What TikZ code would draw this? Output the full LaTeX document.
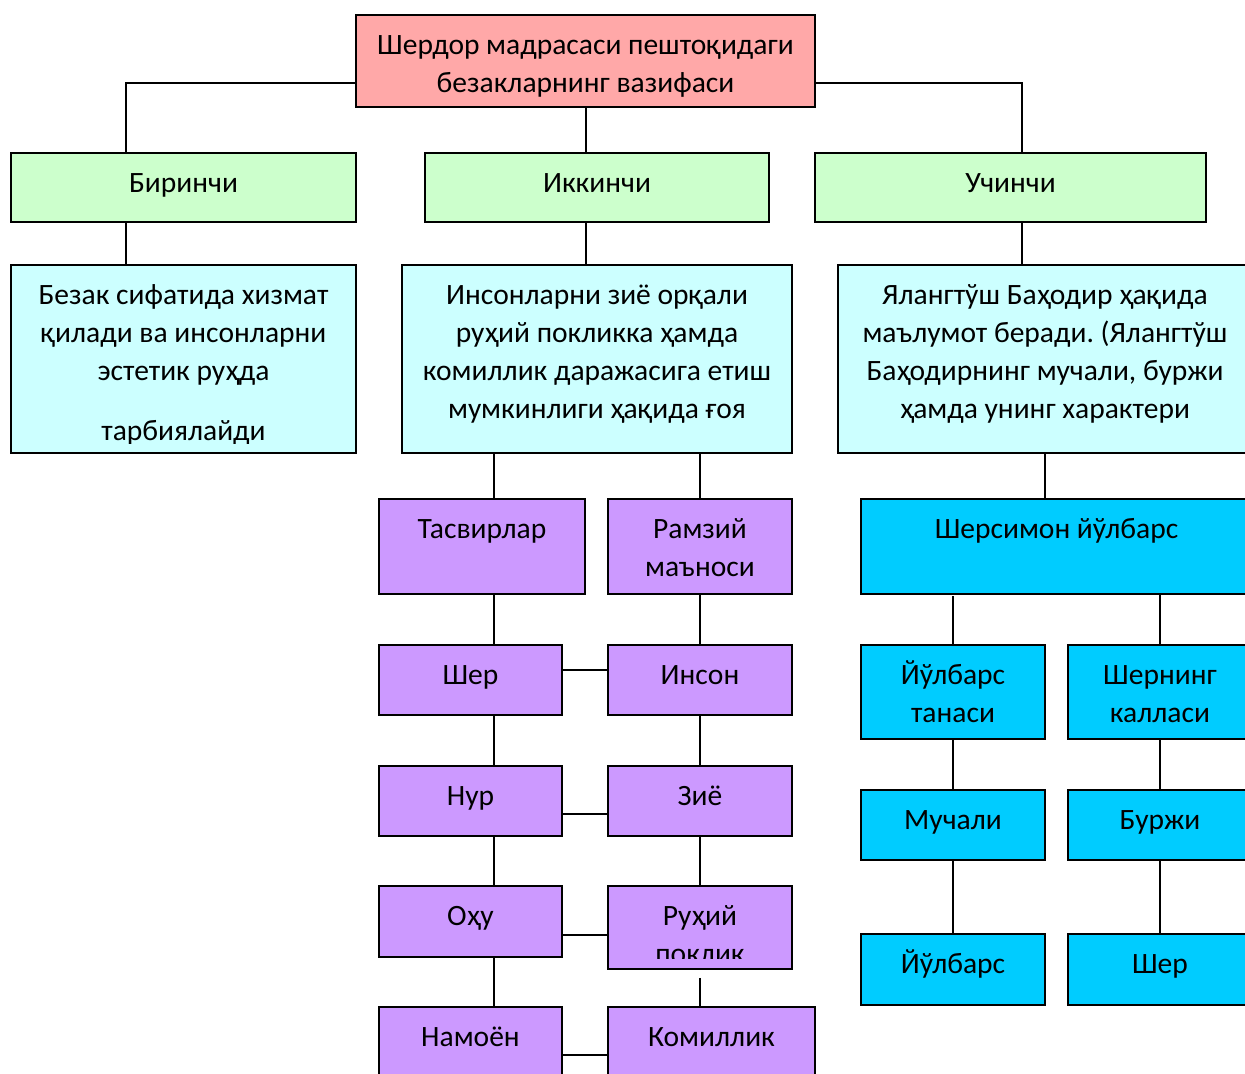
\documentclass[tikz,border=0pt]{standalone}
\usepackage{fontspec}
\setmainfont{Carlito}
\frenchspacing
\usetikzlibrary{calc, fit, positioning}
\definecolor{pinkc}{RGB}{255,168,168}
\definecolor{greenc}{RGB}{204,255,204}
\definecolor{cyanc}{RGB}{204,255,255}
\definecolor{purpc}{RGB}{204,153,255}
\definecolor{bluec}{RGB}{0,204,255}
\tikzset{
    box/.style={draw, line width=1.1pt, inner sep=0pt},
    titlebox/.style={box, fill=pinkc},
    part/.style={box, fill=greenc},
    info/.style={box, fill=cyanc},
    sym/.style={box, fill=purpc},
    tiger/.style={box, fill=bluec},
    txt/.style={align=center, anchor=north, inner sep=0pt, font=\fontsize{16.8}{21.6}\selectfont},
    link/.style={line width=1.1pt} }
\newcommand{\boxtext}[3]{\node[txt] (#1) at ($(#2.north)+(0,12.3)$) {\rule{0pt}{16pt}#3};}

\begin{document}
\begin{tikzpicture}[x=0.02cm, y=-0.02cm]
			\useasboundingbox (0,0) rectangle (1245,1073);
			\clip (0,0) rectangle (1245,1073);
			% ---- boxes
			\node[titlebox, fit={(356,15) (815,107)}] (title) {};
			\node[part, fit={(11,153) (356,222)}] (first) {};
			\node[part, fit={(425,153) (769,222)}] (second) {};
			\node[part, fit={(815,153) (1206,222)}] (third) {};
			\node[info, fit={(11,265) (356,453)}] (info1) {};
			\node[info, fit={(402,265) (792,453)}] (info2) {};
			\node[info, fit={(838,265) (1252,453)}] (info3) {};
			\node[sym, fit={(379,499) (585,594)}] (pics) {};
			\node[sym, fit={(608,499) (792,594)}] (meaning) {};
			\node[tiger, fit={(861,499) (1252,594)}] (shersimon) {};
			\node[sym, fit={(379,645) (562,715)}] (sher) {};
			\node[sym, fit={(608,645) (792,715)}] (inson) {};
			\node[sym, fit={(379,766) (562,836)}] (nur) {};
			\node[sym, fit={(608,766) (792,836)}] (ziyo) {};
			\node[sym, fit={(379,886) (562,957)}] (okhu) {};
			\node[sym, fit={(608,886) (792,969)}] (pok) {};
			\node[sym, fit={(379,1007) (562,1090)}] (namoyon) {};
			\node[sym, fit={(608,1007) (815,1090)}] (kamol) {};
			\node[tiger, fit={(861,645) (1045,739)}] (tana) {};
			\node[tiger, fit={(1068,645) (1252,739)}] (kalla) {};
			\node[tiger, fit={(861,790) (1045,860)}] (muchal) {};
			\node[tiger, fit={(1068,790) (1252,860)}] (burj) {};
			\node[tiger, fit={(861,934) (1045,1005)}] (yulbars) {};
			\node[tiger, fit={(1068,934) (1252,1005)}] (sherb) {};
			% ---- texts
			\boxtext{title-t}{title}{Шердор мадрасаси пештоқидаги\\безакларнинг вазифаси}
			\boxtext{first-t}{first}{Биринчи}
			\boxtext{second-t}{second}{Иккинчи}
			\boxtext{third-t}{third}{Учинчи}
			\begin{scope}
				\clip (info1.north west) rectangle ($(info1.south east)+(0,-10)$);
				\boxtext{info1-t}{info1}{Безак сифатида хизмат\\қилади ва инсонларни\\эстетик руҳда\\[12.5pt]тарбиялайди}
			\end{scope}
			\boxtext{info2-t}{info2}{Инсонларни зиё орқали\\руҳий покликка ҳамда\\комиллик даражасига етиш\\мумкинлиги ҳақида ғоя}
			\boxtext{info3-t}{info3}{Ялангтўш Баҳодир ҳақида\\маълумот беради. (Ялангтўш\\Баҳодирнинг мучали, буржи\\ҳамда унинг характери}
			\boxtext{pics-t}{pics}{Тасвирлар}
			\boxtext{meaning-t}{meaning}{Рамзий\\маъноси}
			\boxtext{shersimon-t}{shersimon}{Шерсимон йўлбарс}
			\boxtext{sher-t}{sher}{Шер}
			\boxtext{inson-t}{inson}{Инсон}
			\boxtext{nur-t}{nur}{Нур}
			\boxtext{ziyo-t}{ziyo}{Зиё}
			\boxtext{okhu-t}{okhu}{Оҳу}
			\begin{scope}
				\clip (pok.north west) rectangle ($(pok.south east)+(0,-11)$);
				\boxtext{pok-t}{pok}{Руҳий\\поклик}
			\end{scope}
			\boxtext{namoyon-t}{namoyon}{Намоён}
			\boxtext{kamol-t}{kamol}{Комиллик}
			\boxtext{tana-t}{tana}{Йўлбарс\\танаси}
			\boxtext{kalla-t}{kalla}{Шернинг\\калласи}
			\boxtext{muchal-t}{muchal}{Мучали}
			\boxtext{burj-t}{burj}{Буржи}
			\boxtext{yulbars-t}{yulbars}{Йўлбарс}
			\boxtext{sherb-t}{sherb}{Шер}
			% ---- connectors
			\draw[link] ($(title.west)+(0,22)$) -| ($(first.north)+(-57.5,0)$);
			\draw[link] ($(title.east)+(0,22)$) -| ($(third.north)+(11.5,0)$);
			\draw[link] ($(title.south)+(0.5,0)$) coordinate (c0) -- (c0 |- second.north);
			\draw[link] ($(first.south)+(-57.5,0)$) coordinate (c1) -- (c1 |- info1.north);
			\draw[link] ($(second.south)+(-11,0)$) coordinate (c2) -- (c2 |- info2.north);
			\draw[link] ($(third.south)+(11.5,0)$) coordinate (c3) -- (c3 |- info3.north);
			\draw[link] ($(pics.north)+(12,0)$) coordinate (c4) -- (c4 |- info2.south);
			\draw[link] (meaning.north) -- (meaning.north |- info2.south);
			\draw[link] ($(shersimon.north)+(-11.5,0)$) coordinate (c5) -- (c5 |- info3.south);
			\draw[link] ($(pics.south)+(12,0)$) coordinate (c6) -- (c6 |- sher.north);
			\draw[link] (meaning.south) -- (meaning.south |- inson.north);
			\draw[link] ($(sher.east)+(0,-10)$) coordinate (c7) -- (c7 -| inson.west);
			\draw[link] ($(sher.south)+(23.5,0)$) coordinate (c8) -- (c8 |- nur.north);
			\draw[link] (inson.south) -- (inson.south |- ziyo.north);
			\draw[link] ($(nur.east)+(0,13)$) coordinate (c9) -- (c9 -| ziyo.west);
			\draw[link] ($(nur.south)+(23.5,0)$) coordinate (c10) -- (c10 |- okhu.north);
			\draw[link] (ziyo.south) -- (ziyo.south |- pok.north);
			\draw[link] ($(okhu.east)+(0,13.5)$) coordinate (c11) -- (c11 -| pok.west);
			\draw[link] ($(okhu.south)+(23.5,0)$) coordinate (c12) -- (c12 |- namoyon.north);
			\draw[link] ($(pok.south)+(0,8)$) coordinate (c13) -- (c13 |- kamol.north);
			\draw[link] ($(namoyon.east)+(0,6.5)$) coordinate (c14) -- (c14 -| kamol.west);
			\draw[link] ($(tana.north)+(0,-48)$) coordinate (c15) -- (tana.north);
			\draw[link] ($(kalla.north)+(0,-51)$) coordinate (c16) -- (kalla.north);
			\draw[link] (tana.south) -- (muchal.north);
			\draw[link] (kalla.south) -- (burj.north);
			\draw[link] (muchal.south) -- (yulbars.north);
			\draw[link] (burj.south) -- (sherb.north);
		\end{tikzpicture}
\end{document}
